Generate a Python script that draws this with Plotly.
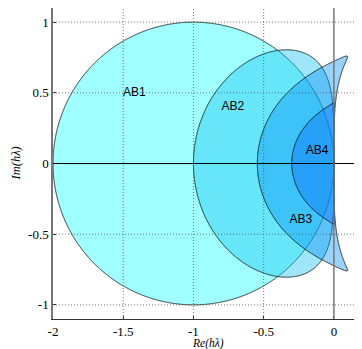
import numpy as np
import plotly.graph_objects as go

# Adams-Bashforth coefficients (data defining each stability region)
methods = ["AB1", "AB2", "AB3", "AB4"]
ab1_beta = [1.0]
ab2_beta = [3/2, -1/2]
ab3_beta = [23/12, -16/12, 5/12]
ab4_beta = [55/24, -59/24, 37/24, -9/24]
betas = [ab1_beta, ab2_beta, ab3_beta, ab4_beta]

fill_colors = ["rgba(17,255,255,0.4)", "rgba(17,192,242,0.4)",
               "rgba(0,142,242,0.4)", "rgba(7,107,255,0.4)"]

label_x = [-1.42, -0.72, -0.235, -0.12]
label_y = [0.50, 0.40, -0.40, 0.09]

x_ticks = [-2, -1.5, -1, -0.5, 0]
x_ticktext = ["-2", "-1.5", "-1", "-0.5", "0"]
y_ticks = [-1, -0.5, 0, 0.5, 1]
y_ticktext = ["-1", "-0.5", "0", "0.5", "1"]

# sampling windows (xmin, xmax, ymin, ymax, step) for each method
windows = [(-2.03, 0.03, -1.03, 1.03, 0.005),
           (-1.06, 0.06, -0.9, 0.9, 0.0035),
           (-0.62, 0.16, -0.86, 0.86, 0.0025),
           (-0.36, 0.06, -0.6, 0.6, 0.0015)]


def max_root_modulus(beta, X, Y):
    Z = X + 1j * Y
    k = len(beta)
    a = [-1 - Z * beta[0]] + [-Z * b for b in beta[1:]]
    if k == 1:
        return np.abs(-a[0])
    C = np.zeros(Z.shape + (k, k), dtype=complex)
    for j in range(k):
        C[..., 0, j] = -a[j]
    for j in range(1, k):
        C[..., j, j - 1] = 1
    return np.abs(np.linalg.eigvals(C)).max(axis=-1)


fig = go.Figure()
for name, beta, col, (x0, x1, y0, y1, st) in zip(methods, betas, fill_colors, windows):
    xs = np.arange(x0, x1 + st / 2, st)
    ys = np.arange(y0, y1 + st / 2, st)
    X, Y = np.meshgrid(xs, ys)
    # negative modulus so the stable set (|root| <= 1) is the upper band
    M = (-max_root_modulus(beta, X, Y)).astype(np.float32)
    fig.add_trace(go.Contour(
        x=xs.astype(np.float32), y=ys.astype(np.float32), z=M,
        autocontour=False,
        contours=dict(start=-1, end=-1, size=1, coloring="fill", showlines=True),
        colorscale=[[0, "rgba(255,255,255,0)"], [1, col]],
        line=dict(color="black", width=0.8, smoothing=0),
        showscale=False, hoverinfo="skip", name=name))

fig.add_trace(go.Scatter(x=label_x, y=label_y, mode="text", text=methods,
                         textfont=dict(family="Liberation Sans", size=12, color="black"),
                         showlegend=False, hoverinfo="skip"))

# dotted grid above fills
grid_line = dict(color="#555", width=0.8, dash="1px,2px")
for xv in x_ticks[1:-1]:
    fig.add_shape(type="line", xref="x", yref="paper", x0=xv, x1=xv, y0=0, y1=1,
                  line=grid_line, layer="above")
for yv in [v for v in y_ticks if v != 0]:
    fig.add_shape(type="line", xref="paper", yref="y", x0=0, x1=1, y0=yv, y1=yv,
                  line=grid_line, layer="above")
# coordinate axes
fig.add_shape(type="line", xref="paper", yref="y", x0=0, x1=1, y0=0, y1=0,
              line=dict(color="black", width=1), layer="above")
fig.add_shape(type="line", xref="x", yref="paper", x0=0, x1=0, y0=0, y1=1,
              line=dict(color="#777", width=1.5), layer="above")

fig.update_layout(
    width=354, height=341,
    margin=dict(l=45, r=0, t=0, b=30),
    plot_bgcolor="white", paper_bgcolor="white",
    font=dict(family="Liberation Serif", size=13, color="black"),
    annotations=[
        dict(text="<i>Re(hλ)</i>", xref="paper", yref="paper", x=0.5, y=-0.0785,
             xanchor="center", yanchor="middle", showarrow=False,
             font=dict(family="Liberation Serif", size=11.5)),
        dict(text="<i>Im(hλ)</i>", xref="paper", yref="paper", x=-0.12, y=0.5,
             xanchor="center", yanchor="middle", showarrow=False, textangle=-90,
             font=dict(family="Liberation Serif", size=12.5)),
    ],
)
fig.update_xaxes(range=[-2, 0.2], tickvals=x_ticks, ticktext=x_ticktext,
                 automargin=False,
                 showgrid=False, zeroline=False, showline=True, mirror=True,
                 linecolor="#333", linewidth=1, ticks="inside", ticklen=3,
                 tickcolor="#333")
fig.update_yaxes(range=[-1.1, 1.1], tickvals=y_ticks, ticktext=y_ticktext,
                 automargin=False,
                 showgrid=False, zeroline=False, showline=True, mirror=False,
                 linecolor="#777", linewidth=1.5, ticks="inside", ticklen=3,
                 tickcolor="#333")

fig.write_html("out.html")
